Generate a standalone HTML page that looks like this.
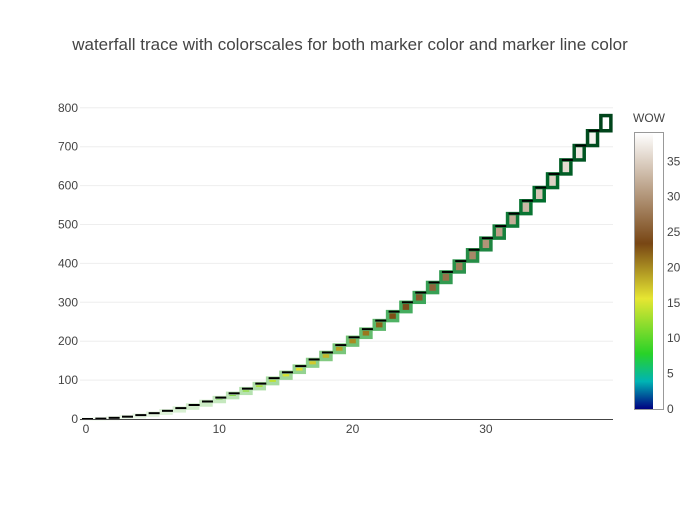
<!DOCTYPE html>
<html><head><meta charset="utf-8"><style>
body{margin:0;background:#fff;font-family:"Liberation Sans",sans-serif}
text{font-family:"Liberation Sans",sans-serif}
</style></head><body>
<svg id="s" width="700" height="500" xmlns="http://www.w3.org/2000/svg">
<defs><linearGradient id="earth" x1="0" y1="1" x2="0" y2="0">
<stop offset="0" stop-color="rgb(0,0,130)"/><stop offset="0.1" stop-color="rgb(0,180,180)"/>
<stop offset="0.2" stop-color="rgb(40,210,40)"/><stop offset="0.4" stop-color="rgb(230,230,50)"/>
<stop offset="0.6" stop-color="rgb(120,70,20)"/><stop offset="1" stop-color="rgb(255,255,255)"/>
</linearGradient></defs>
<text x="350" y="50" text-anchor="middle" font-size="17" fill="#444">waterfall trace with colorscales for both marker color and marker line color</text>
<g id="grid"></g><g id="bars"></g><g id="conn"></g><g id="axes"></g>
<g>
<text x="633" y="122" font-size="12" fill="#444">WOW</text>
<rect x="634.5" y="132.5" width="29" height="277" fill="#fff" stroke="#999" stroke-width="1"/>
<rect x="635" y="133" width="18" height="276" fill="url(#earth)"/>
<g id="cbt"></g>
</g>
</svg>
<script>
const xs = [];
for (let i = 0; i < 40; i++) xs.push(i);
const increments = [0,1,2,3,4,5,6,7,8,9,10,11,12,13,14,15,16,17,18,19,20,21,22,23,24,25,26,27,28,29,30,31,32,33,34,35,36,37,38,39];
const xTicks = [0,10,20,30];
const yTicks = [0,100,200,300,400,500,600,700,800];
const cbTicks = [0,5,10,15,20,25,30,35];
const cmin = 0, cmax = 39;
const NS = "http://www.w3.org/2000/svg";
const X = v => 86 + v * 13.33;
const Y = v => 419 - v * 0.389;
const CB = v => 409 - (v - cmin) / (cmax - cmin) * 276;
function mk(t, a, p) { const e = document.createElementNS(NS, t); for (const k in a) e.setAttribute(k, a[k]); p.appendChild(e); return e; }
function interp(sc, t) {
  t = Math.max(0, Math.min(1, t));
  for (let i = 1; i < sc.length; i++) if (t <= sc[i][0]) {
    const a = sc[i-1], b = sc[i], f = (t - a[0]) / (b[0] - a[0] || 1);
    return `rgb(${a[1].map((c, j) => Math.round(c + (b[1][j] - c) * f)).join(",")})`;
  }
  return `rgb(${sc[sc.length-1][1].join(",")})`;
}
const earth = [[0,[0,0,130]],[0.1,[0,180,180]],[0.2,[40,210,40]],[0.4,[230,230,50]],[0.6,[120,70,20]],[1,[255,255,255]]];
const greens = [[0,[0,68,27]],[0.125,[0,109,44]],[0.25,[35,139,69]],[0.375,[65,171,93]],[0.5,[116,196,118]],[0.625,[161,217,155]],[0.75,[199,233,192]],[0.875,[229,245,224]],[1,[247,252,245]]];
const grid = document.getElementById("grid"), bars = document.getElementById("bars"), conn = document.getElementById("conn"), axes = document.getElementById("axes"), cbt = document.getElementById("cbt");
yTicks.forEach(v => {
  if (v > 0) { const l = mk("line", {x1: 80, x2: 613, y1: Y(v), y2: Y(v), stroke: "#eee", "stroke-width": 1}, grid);
  
   }
  const t = mk("text", {x: 78, y: Y(v) + 4, "text-anchor": "end", "font-size": 12, fill: "#444"}, axes);
  t.textContent = v;
  
  
});
xTicks.forEach(v => {
  const t = mk("text", {x: X(v), y: 433, "text-anchor": "middle", "font-size": 12, fill: "#444"}, axes);
  t.textContent = v;
  
  
});
let cum = 0; const tops = [];
xs.forEach((x, i) => {
  const base = cum; cum += increments[i]; tops.push(cum);
  const v = xs[i];
  const y0 = Y(base), y1 = Y(cum);
  const r = mk("rect", {x: X(x) - 5, y: Math.min(y0, y1), width: 10, height: Math.max(Math.abs(y1 - y0), 0.01),
    fill: interp(earth, (v - cmin) / (cmax - cmin)), stroke: interp(greens, 1 - (v - cmin) / (cmax - cmin)), "stroke-width": 3.5}, bars);
  
  
});
for (let i = 0; i < xs.length - 1; i++) {
  const l = mk("line", {x1: X(xs[i]) - 4, x2: X(xs[i]) + 7, y1: Y(tops[i]), y2: Y(tops[i]), stroke: "#000", "stroke-width": 2}, conn);
  
  
}
const ax = mk("line", {x1: 80, x2: 613, y1: 419.5, y2: 419.5, stroke: "#444", "stroke-width": 1}, axes);


cbTicks.forEach(v => {
  const t = mk("text", {x: 667, y: CB(v) + 4, "font-size": 12, fill: "#444"}, cbt);
  t.textContent = v;
  
  
});
</script>
</body></html>
